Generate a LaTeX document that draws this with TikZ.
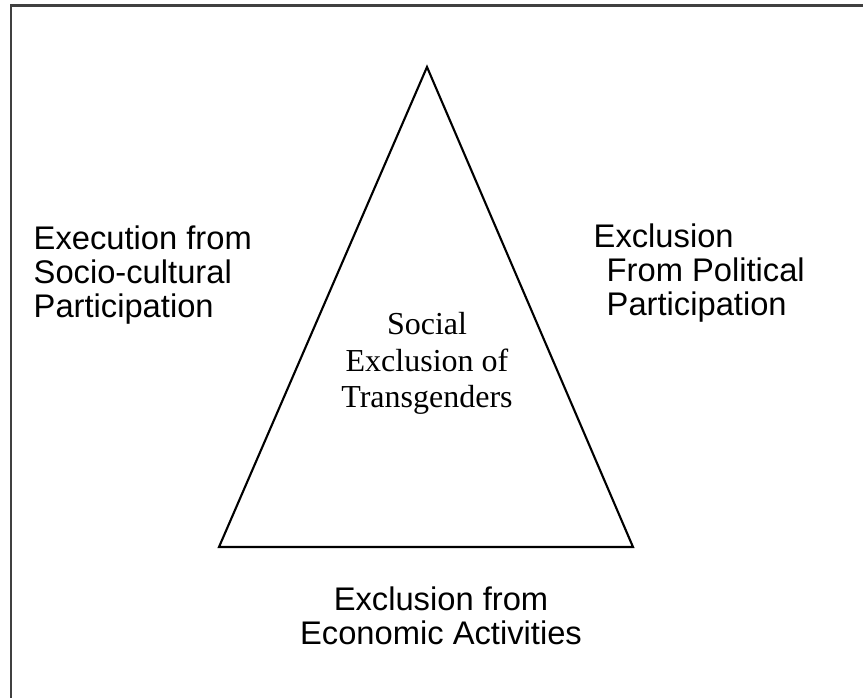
\documentclass[tikz,border=0pt]{standalone}
\usepackage{fontspec}
\setmainfont{Liberation Serif}
\setsansfont{Liberation Sans}
\usepackage{tikz}

\tikzset{
	side/.style={font=\sffamily\fontsize{9.3}{9.8}\selectfont, inner sep=0pt},
	core/.style={font=\rmfamily\fontsize{9.1}{10.4}\selectfont, inner sep=0pt, align=center},
}

\begin{document}
\begin{tikzpicture}[x=0.01cm, y=-0.01cm]
		\useasboundingbox (0,0) rectangle (863,698);
		% frame
		\draw[line width=0.85pt, black!75] (11,698) -- (11,6) -- (863,6);
		% triangle
		\coordinate (top) at (427,67);
		\coordinate (bl) at (219,547);
		\coordinate (br) at (633,547);
		\draw[line width=0.6pt] (top) -- (bl) -- (br) -- cycle;
		% labels, placed on the baseline of their last line
		\node[core, anchor=base](C) at (427,408) {Social\\Exclusion of\\Transgenders};
		\node[side, align=left, anchor=base west](L) at (33,318) {Execution from\\Socio-cultural\\Participation};
		\node[side, align=left, anchor=base west](R) at (593,316) {Exclusion\\\hspace{3.7pt}From Political\\\hspace{3.7pt}Participation};
		\node[side, align=center, anchor=base](B) at (441,645) {Exclusion from\\Economic Activities};
		\end{tikzpicture}
\end{document}
